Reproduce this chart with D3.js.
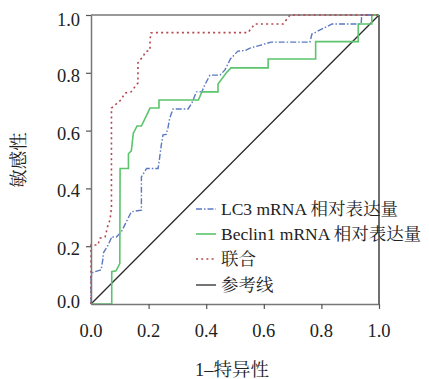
<!DOCTYPE html>
<html><head><meta charset="utf-8">
<script src="https://cdn.jsdelivr.net/npm/d3@7"></script>
<style>
html,body{margin:0;padding:0;background:#fff;}
svg text{font-family:"Liberation Serif","Times New Roman","DejaVu Serif","Noto Serif CJK SC","Noto Sans CJK SC",serif;fill:#222;}
</style></head>
<body><svg id="c" width="429" height="379"></svg>
<script>
// ROC curves: [1-specificity, sensitivity]
const lc3FPR = [0,0,0.007,0.035,0.042,0.042,0.053,0.059,0.07,0.07,0.088,0.105,0.117,0.14,0.175,0.175,0.193,0.233,0.238,0.244,0.25,0.261,0.267,0.273,0.285,0.337,0.35,0.366,0.385,0.392,0.413,0.448,0.465,0.484,0.51,0.535,0.554,0.59,0.625,0.76,0.767,0.837,0.938,0.94,1];
const lc3TPR = [0,0.094,0.11,0.118,0.159,0.175,0.193,0.204,0.227,0.232,0.232,0.249,0.273,0.319,0.325,0.44,0.469,0.469,0.504,0.55,0.585,0.587,0.608,0.642,0.675,0.675,0.695,0.734,0.734,0.752,0.792,0.792,0.81,0.848,0.875,0.877,0.886,0.896,0.906,0.906,0.934,0.969,0.969,1,1];
const becFPR = [0,0.072,0.072,0.087,0.1,0.101,0.13,0.13,0.14,0.147,0.16,0.175,0.205,0.236,0.236,0.373,0.385,0.441,0.441,0.47,0.486,0.615,0.615,0.78,0.78,0.928,0.928,0.975,0.975,1];
const becTPR = [0,0,0.112,0.115,0.14,0.469,0.469,0.52,0.53,0.591,0.616,0.616,0.678,0.678,0.706,0.706,0.734,0.734,0.761,0.8,0.817,0.817,0.848,0.848,0.908,0.908,0.969,0.969,1,1];
const jointFPR = [0,0,0.024,0.031,0.049,0.059,0.066,0.071,0.071,0.104,0.118,0.139,0.163,0.163,0.17,0.181,0.188,0.205,0.205,0.208,0.222,0.545,0.569,0.667,0.691,1];
const jointTPR = [0,0.204,0.204,0.228,0.232,0.273,0.291,0.332,0.678,0.706,0.73,0.734,0.765,0.834,0.845,0.855,0.872,0.879,0.913,0.938,0.939,0.939,0.969,0.969,1,1];
const refFPR = [0,1];
const refTPR = [0,1];
const tickValues = [0,0.2,0.4,0.6,0.8,1.0];
const tickLabels = ["0.0","0.2","0.4","0.6","0.8","1.0"];
const seriesNames = ["LC3 mRNA 相对表达量","Beclin1 mRNA 相对表达量","联合","参考线"];
const xTitle = "1–特异性";
const yTitle = "敏感性";

const FONT = '"Liberation Serif","Times New Roman","DejaVu Serif","Noto Serif CJK SC","Noto Sans CJK SC",serif';
const svg = d3.select("#c");
const L=91,R=379,T=15,B=304;
const x = d3.scaleLinear().domain([0,1]).range([L,R]);
const y = d3.scaleLinear().domain([0,1]).range([B,T]);

const styles = [
  {color:"#5b78c2", dash:"6,2,1.5,2", w:1.4},
  {color:"#5cc46c", dash:null, w:1.6},
  {color:"#b5474f", dash:"2,3.2", w:1.6},
  {color:"#2a2a2a", dash:null, w:1.3}
];
const series = [[lc3FPR,lc3TPR],[becFPR,becTPR],[jointFPR,jointTPR],[refFPR,refTPR]];
const line = d3.line().x(d=>x(d[0])).y(d=>y(d[1]));

// frame
svg.append("line").attr("x1",L).attr("x2",R).attr("y1",T).attr("y2",T).attr("stroke","#777").attr("stroke-width",1.5);
svg.append("line").attr("x1",R).attr("x2",R).attr("y1",T).attr("y2",B).attr("stroke","#222").attr("stroke-width",1.3);

// curves (reference drawn first)
[3,0,1,2].forEach(i=>{
  const [fx,fy]=series[i];
  const pts = fx.map((v,k)=>[v,fy[k]]);
  const p = svg.append("path").attr("d",line(pts)).attr("fill","none")
    .attr("stroke",styles[i].color).attr("stroke-width",styles[i].w);
  if(styles[i].dash) p.attr("stroke-dasharray",styles[i].dash);
});

// axes
const xAxis = d3.axisBottom(x).tickValues(tickValues.filter(v=>v>0)).tickFormat(()=>"").tickSize(5).tickSizeOuter(0);
const gx = svg.append("g").attr("transform",`translate(0,${B})`).call(xAxis);
const yAxis = d3.axisLeft(y).tickValues(tickValues.filter(v=>v>0)).tickFormat(()=>"").tickSize(5).tickSizeOuter(0);
const gy = svg.append("g").attr("transform",`translate(${L},0)`).call(yAxis);
[gx,gy].forEach(g=>{g.select(".domain").attr("stroke","#777").attr("stroke-width",1.5);
  g.selectAll(".tick line").attr("stroke","#555").attr("stroke-width",1.2);});

// tick labels
svg.append("g").selectAll("text").data(tickValues).join("text")
  .attr("x",d=>x(d)).attr("y",337).attr("text-anchor","middle").attr("font-family",FONT)
  .attr("font-size",18.5).text((d,i)=>tickLabels[i]);
svg.append("g").selectAll("text").data(tickValues).join("text")
  .attr("x",80).attr("y",d=>y(d)+(d===1?11:(d===0?4:9))).attr("text-anchor","end").attr("font-family",FONT)
  .attr("font-size",18.5).text((d,i)=>tickLabels[i]);

// titles
svg.append("text").attr("x",232).attr("y",376).attr("text-anchor","middle").attr("font-family",FONT).attr("font-size",18.5).text(xTitle);
svg.append("text").attr("transform","translate(25,160) rotate(-90)").attr("text-anchor","middle").attr("font-family",FONT).attr("font-size",18.5).text(yTitle);

// legend
const ly=[209,234,259,285];
seriesNames.forEach((n,i)=>{
  const s = styles[i];
  const l = svg.append("line").attr("x1",196).attr("x2",216).attr("y1",ly[i]).attr("y2",ly[i])
    .attr("stroke",s.color).attr("stroke-width",s.w);
  if(s.dash) l.attr("stroke-dasharray",s.dash);
  svg.append("text").attr("x",221).attr("y",ly[i]+6).attr("font-family",FONT).attr("font-size",17.5).text(n);
});
</script></body></html>
